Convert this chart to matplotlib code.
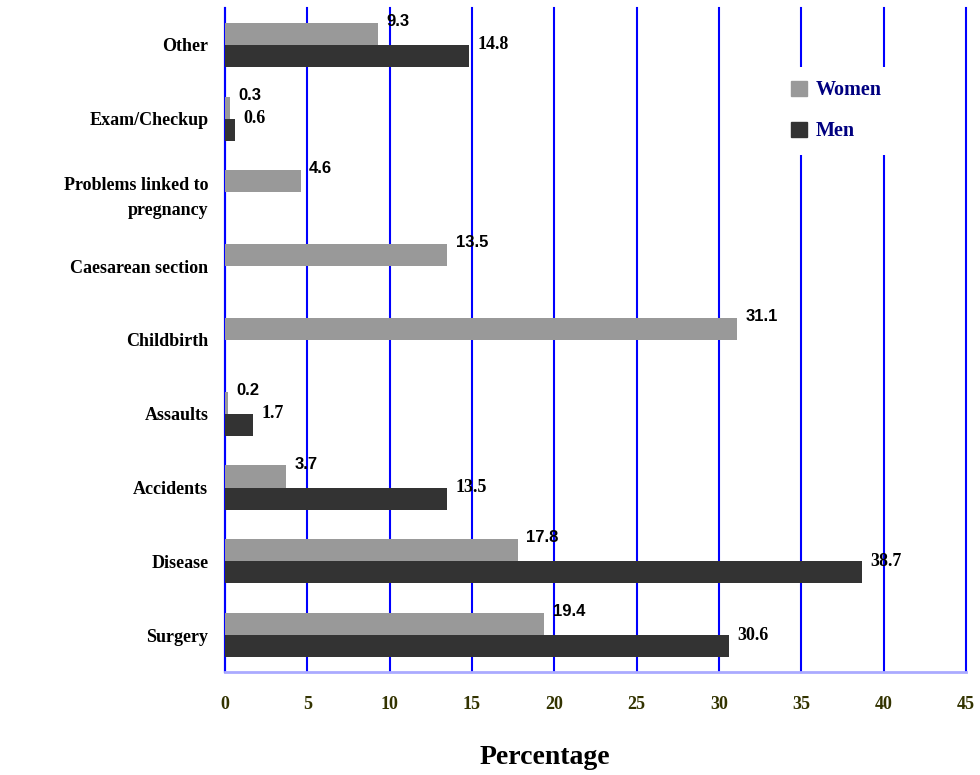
import numpy as np
import matplotlib.pyplot as plt
from matplotlib.patches import Patch

categories = ["Surgery", "Disease", "Accidents", "Assaults", "Childbirth",
              "Caesarean section", "Problems linked to\npregnancy",
              "Exam/Checkup", "Other"]
women = [19.4, 17.8, 3.7, 0.2, 31.1, 13.5, 4.6, 0.3, 9.3]
men = [30.6, 38.7, 13.5, 1.7, None, None, None, 0.6, 14.8]
xticks = [0, 5, 10, 15, 20, 25, 30, 35, 40, 45]

women_color = "#999999"
men_color = "#333333"
serif = "Liberation Serif"

fig = plt.figure(figsize=(9.8, 7.75), dpi=100)
ax = fig.add_axes([0.2296, 0.1329, 0.7561, 0.8568])

y = np.arange(len(categories))
h = 0.3
men_vals = [np.nan if v is None else v for v in men]
ax.barh(y + h / 2, women, height=h, color=women_color, zorder=3)
ax.barh(y - h / 2, men_vals, height=h, color=men_color, zorder=3)

for yi, v in zip(y, women):
    ax.annotate(f"{v}", (v, yi + h), xytext=(6, 1), textcoords="offset points",
                ha="left", va="center", fontsize=12, fontweight="bold",
                family="Liberation Sans", zorder=4)
for yi, v in zip(y, men):
    if v is None:
        continue
    ax.annotate(f"{v}", (v, yi), xytext=(6, 0), textcoords="offset points",
                ha="left", va="center", fontsize=13, fontweight="bold",
                family=serif, zorder=4)

ax.set_xlim(0, 45)
ax.set_ylim(-0.5, 8.5)
ax.set_xticks(xticks)
ax.set_yticks(y)
ax.set_yticklabels(categories, family=serif, fontweight="bold", fontsize=13,
                   linespacing=1.55)
for lab in ax.get_xticklabels():
    lab.set_family(serif)
    lab.set_fontweight("bold")
    lab.set_fontsize(13)
    lab.set_color("#333300")
ax.tick_params(axis="y", length=0, pad=12)
ax.tick_params(axis="x", length=0, pad=17)

ax.grid(axis="x", color="#0000ff", linewidth=1.5, zorder=1)
for line in ax.get_xgridlines():
    line.set_clip_on(False)
for s in ["top", "right"]:
    ax.spines[s].set_visible(False)
ax.spines["left"].set_color("#0000ff")
ax.spines["left"].set_linewidth(1.5)
ax.spines["bottom"].set_color("#aaaaff")
ax.spines["bottom"].set_linewidth(2)

fig.text(545 / 980, 1 - 757 / 775, "Percentage", family=serif,
         fontweight="bold", fontsize=20, ha="center", va="center")

# legend sits on a white box that hides the gridlines behind it
handles = [Patch(color=women_color, label="Women"),
           Patch(color=men_color, label="Men")]
leg = ax.legend(handles=handles, loc="upper left", bbox_to_anchor=(0.733, 0.926),
                frameon=True, facecolor="white", edgecolor="none", framealpha=1,
                fancybox=False, borderpad=0.65, handlelength=0.8, handleheight=0.8,
                handletextpad=0.4, labelspacing=1.05,
                prop={"family": serif, "weight": "bold", "size": 14.5})
for t in leg.get_texts():
    t.set_color("#000080")

plt.savefig("out.png", dpi=100)
